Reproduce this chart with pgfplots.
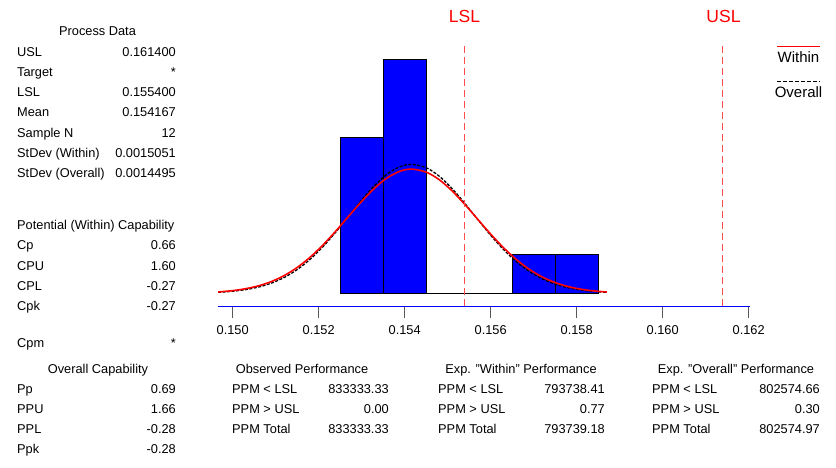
\documentclass[border=0pt]{standalone}
\usepackage{pgfplots}
\pgfplotsset{compat=1.18}
\usepackage{fontspec}
\setmainfont{Liberation Sans}
\begin{document}
\fontsize{12.8}{15}\selectfont
\begin{tikzpicture}
\path[use as bounding box] (0,0) rectangle (836pt,467pt);
\begin{axis}[
  at={(217.7pt,161pt)}, anchor=south west,
  scale only axis, width=532pt, height=260.7pt,
  xmin=0.149651, xmax=0.162023, ymin=-27.1, ymax=529.3,
  axis x line*=bottom, axis y line=none,
  x axis line style={blue, line width=0.9pt, -},
  xtick={0.150,0.152,0.154,0.156,0.158,0.160,0.162},
  xticklabels={0.150,0.152,0.154,0.156,0.158,0.160,0.162},
  xticklabel style={font=\fontsize{12.8}{15}\selectfont, yshift=-3pt},
  tick align=outside, major tick length=12pt,
  xtick style={black!65, line width=1.3pt},
  ytick=\empty,
  clip=false,
  scaled x ticks=false,
]
% histogram (density = count / (N * bin width))
\addplot[ybar interval, fill=blue, draw=black, line width=0.8pt] coordinates {
 (0.1525,333.33) (0.1535,500) (0.1545,0) (0.1555,0) (0.1565,83.33) (0.1575,83.33) (0.1585,0)};
% overall normal curve
\addplot[black, line width=1.3pt, dash pattern=on 3pt off 1.5pt, smooth] coordinates {
(0.14966,2.05) (0.1500,4.42) (0.1503,7.84) (0.1506,13.33) (0.1509,21.71) (0.1512,33.88)
(0.1515,50.65) (0.1518,72.55) (0.1521,99.58) (0.1524,130.92) (0.1527,164.91) (0.1530,199.04)
(0.1533,230.15) (0.1536,254.96) (0.1539,270.60) (0.154167,275.23) (0.1545,268.06)
(0.1548,250.20) (0.1551,223.73) (0.1554,191.68) (0.1557,157.33) (0.1560,123.72)
(0.1563,93.22) (0.1566,67.28) (0.1569,46.53) (0.1572,30.83) (0.1575,19.57) (0.1578,11.90)
(0.1581,6.93) (0.1584,3.87) (0.1587,2.07)};
% within normal curve
\addplot[red, line width=1.6pt, smooth] coordinates {
(0.14966,2.82) (0.1500,5.74) (0.1503,9.77) (0.1506,15.99) (0.1509,25.13) (0.1512,37.98)
(0.1515,55.15) (0.1518,76.97) (0.1521,103.23) (0.1524,133.07) (0.1527,164.84) (0.1530,196.24)
(0.1533,224.54) (0.1536,246.90) (0.1539,260.92) (0.154167,265.06) (0.1545,258.65)
(0.1548,242.63) (0.1551,218.73) (0.1554,189.49) (0.1557,157.79) (0.1560,126.26)
(0.1563,97.10) (0.1566,71.77) (0.1569,50.98) (0.1572,34.79) (0.1575,22.83) (0.1578,14.39)
(0.1581,8.72) (0.1584,5.08) (0.1587,2.84)};
% spec limits
\addplot[red!70, line width=1pt, dash pattern=on 7pt off 4pt] coordinates {(0.1554,-27.1) (0.1554,527.8)};
\addplot[red!70, line width=1pt, dash pattern=on 7pt off 4pt] coordinates {(0.1614,-27.1) (0.1614,527.8)};
\end{axis}
\begin{scope}[x=1pt, y=-1pt, yshift=467pt, every node/.style={inner sep=0pt}]
% spec labels
\node[red, anchor=base, font=\fontsize{17.5}{20}\selectfont] at (464.5,22.3) {LSL};
\node[red, anchor=base, font=\fontsize{17.5}{20}\selectfont] at (723.5,22.3) {USL};
% legend
\draw[red, line width=1.4pt] (777,46.7) -- (820,46.7);
\node[anchor=base, font=\fontsize{15}{18}\selectfont] at (798.5,62.5) {Within};
\draw[black, line width=1.4pt, dash pattern=on 4pt off 2pt] (777,81.7) -- (820,81.7);
\node[anchor=base, font=\fontsize{15}{18}\selectfont] at (798.5,97.5) {Overall};
% Process data
\node[anchor=base] at (97.5,35.6) {Process Data};
\foreach \l/\v/\y in {USL/0.161400/56.3, Target/*/76.5, LSL/0.155400/96.6, Mean/0.154167/116.8,
  Sample N/12/137.0, StDev (Within)/0.0015051/157.1, StDev (Overall)/0.0014495/177.3}{
  \node[anchor=base west] at (17,\y) {\l};
  \node[anchor=base east] at (176,\y) {\v};
}
\node[anchor=base west] at (17,229.6) {Potential (Within) Capability};
\foreach \l/\v/\y in {Cp/0.66/249.8, CPU/1.60/270.0, CPL/-0.27/290.1, Cpk/-0.27/310.3, Cpm/*/347.3}{
  \node[anchor=base west] at (17,\y) {\l};
  \node[anchor=base east] at (176,\y) {\v};
}
\node[anchor=base] at (98,373) {Overall Capability};
\foreach \l/\v/\y in {Pp/0.69/393.2, PPU/1.66/413.4, PPL/-0.28/433.5, Ppk/-0.28/453.7}{
  \node[anchor=base west] at (17,\y) {\l};
  \node[anchor=base east] at (176,\y) {\v};
}
% Observed performance
\node[anchor=base] at (302,373) {Observed Performance};
\foreach \l/\v/\y in {PPM < LSL/833333.33/393.2, PPM > USL/0.00/413.4, PPM Total/833333.33/433.5}{
  \node[anchor=base west] at (232,\y) {\l};
  \node[anchor=base east] at (389,\y) {\v};
}
% Exp within
\node[anchor=base] at (521,373) {Exp. "Within" Performance};
\foreach \l/\v/\y in {PPM < LSL/793738.41/393.2, PPM > USL/0.77/413.4, PPM Total/793739.18/433.5}{
  \node[anchor=base west] at (438,\y) {\l};
  \node[anchor=base east] at (605,\y) {\v};
}
% Exp overall
\node[anchor=base] at (736,373) {Exp. "Overall" Performance};
\foreach \l/\v/\y in {PPM < LSL/802574.66/393.2, PPM > USL/0.30/413.4, PPM Total/802574.97/433.5}{
  \node[anchor=base west] at (652,\y) {\l};
  \node[anchor=base east] at (820,\y) {\v};
}
\end{scope}
\end{tikzpicture}
\end{document}
